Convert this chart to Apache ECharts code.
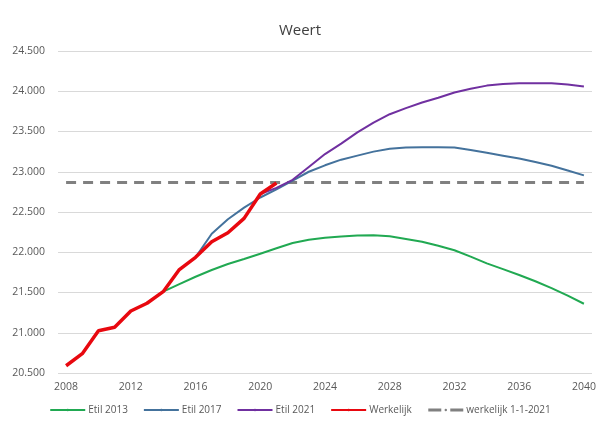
<!DOCTYPE html>
<html>
<head>
<meta charset="utf-8">
<script src="https://cdn.jsdelivr.net/npm/echarts@6/dist/echarts.min.js"></script>
<style>
  html, body { margin: 0; padding: 0; background: #fff; }
  #chart { width: 600px; height: 430px; }
</style>
</head>
<body>
<div id="chart"></div>
<script>
// years 2008..2040
const years = []
for (let y = 2008; y <= 2040; y++) years.push(String(y))

// Werkelijk 2008-2021
const werkelijk = [20590, 20740, 21025, 21068, 21270, 21366, 21510, 21785, 21937, 22131, 22243, 22421, 22723, 22860]

// Etil 2013, from 2014
const etil2013 = [21510, 21605, 21696, 21779, 21854, 21916, 21982, 22049, 22115, 22155, 22180, 22195, 22208, 22212, 22200,
  22165, 22130, 22080, 22025, 21945, 21862, 21790, 21718, 21640, 21555, 21460, 21360]

// Etil 2017, from 2016
const etil2017 = [21937, 22230, 22410, 22555, 22680, 22780, 22890, 23000, 23080, 23150, 23200, 23250, 23285, 23300,
  23303, 23303, 23300, 23270, 23235, 23200, 23165, 23120, 23075, 23015, 22955]

// Etil 2021, from 2020
const etil2021 = [22723, 22800, 22900, 23060, 23220, 23350, 23490, 23610, 23715, 23790, 23860, 23920, 23985, 24030,
  24070, 24090, 24100, 24100, 24100, 24085, 24060]

const werkelijk2021 = 22866

const pad = (arr, startYear) => {
  const lead = startYear - 2008
  const out = []
  for (let i = 0; i < years.length; i++) {
    const j = i - lead
    out.push(j >= 0 && j < arr.length ? arr[j] : null)
  }
  return out
}

const fmt = v => String(v).replace(/\B(?=(\d{3})+(?!\d))/g, '.')

const chart = echarts.init(document.getElementById('chart'))

const lineSeries = (name, data, color, width, extra) => Object.assign({
  name,
  type: 'line',
  data,
  symbol: 'none',
  smooth: false,
  connectNulls: false,
  lineStyle: { color, width },
  itemStyle: { color }
}, extra || {})

chart.setOption({
  animation: false,
  title: {
    text: 'Weert',
    left: 'center',
    top: 18,
    textStyle: { fontFamily: 'Open Sans', fontSize: 15, fontWeight: 'normal', color: '#404040' }
  },
  grid: { left: 58, right: 8, top: 51, bottom: 57 },
  legend: {
    bottom: 10,
    left: 'center',
    itemWidth: 35,
    itemHeight: 3,
    itemGap: 15,
    textStyle: { fontFamily: 'Open Sans', fontSize: 10, color: '#595959', padding: [0, 0, 0, -2] },
    data: ['Etil 2013', 'Etil 2017', 'Etil 2021', 'Werkelijk',
      { name: 'werkelijk 1-1-2021', lineStyle: { type: [13, 9], width: 3 } }]
  },
  xAxis: {
    type: 'category',
    data: years,
    boundaryGap: true,
    axisLine: { show: false },
    axisTick: { show: false },
    axisLabel: {
      interval: 3,
      color: '#595959',
      fontFamily: 'Open Sans',
      fontSize: 10.5,
      margin: 9
    }
  },
  yAxis: {
    type: 'value',
    min: 20500,
    max: 24500,
    interval: 500,
    axisLine: { show: false },
    axisTick: { show: false },
    axisLabel: {
      color: '#595959',
      fontFamily: 'Open Sans',
      fontSize: 10.5,
      margin: 13,
      formatter: fmt
    },
    splitLine: { lineStyle: { color: '#d9d9d9', width: 1 } }
  },
  series: [
    lineSeries('Etil 2013', pad(etil2013, 2014), '#21a952', 2),
    lineSeries('Etil 2017', pad(etil2017, 2016), '#44729c', 2),
    lineSeries('Etil 2021', pad(etil2021, 2020), '#7030a0', 2),
    lineSeries('Werkelijk', pad(werkelijk, 2008), '#e8080f', 3.5),
    lineSeries('werkelijk 1-1-2021', years.map(() => werkelijk2021), '#808080', 3,
      { lineStyle: { color: '#808080', width: 3, type: [10, 7] }, z: 1 })
  ]
})

window.addEventListener('resize', () => chart.resize())
</script>
</body>
</html>
